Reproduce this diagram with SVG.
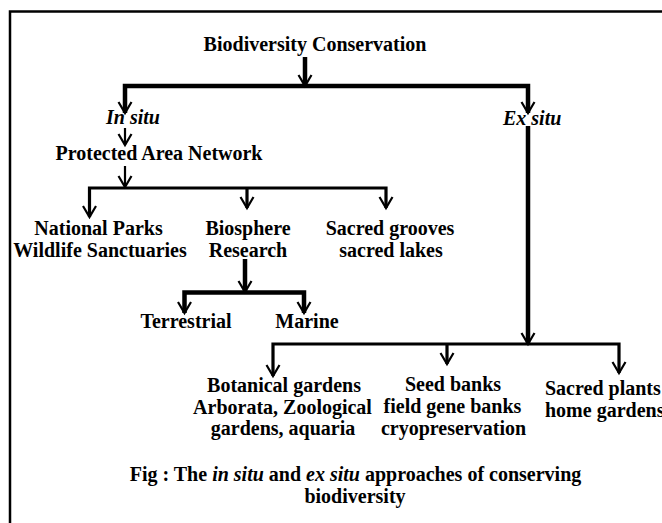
<svg xmlns="http://www.w3.org/2000/svg" width="662" height="523" viewBox="0 0 662 523">
<defs>
<style>
text{font-family:"Liberation Serif","Times New Roman",serif;font-weight:bold;font-size:20px;fill:#000}
.c{text-anchor:middle}
.i{font-style:italic}
.ln{fill:none;stroke:#000;stroke-linejoin:miter;stroke-linecap:butt}
.w2{stroke-width:2.2}
.w3{stroke-width:3.2}
.w4{stroke-width:4.5}
</style>
<marker id="ah" markerUnits="userSpaceOnUse" markerWidth="30" markerHeight="30" refX="0" refY="0" orient="auto" overflow="visible">
<path d="M-11,-6.5 L0,0 L-11,6.5" fill="none" stroke="#000" stroke-width="2.2"/>
</marker>
</defs>
<rect x="0" y="0" width="662" height="523" fill="#fff"/>
<rect id="frame" x="10" y="11.5" width="700" height="600" fill="none" stroke="#000" stroke-width="2.5"/>

<g id="connectors">
<path class="ln w4" d="M305,57 V86" marker-end="url(#ah)"/>
<path class="ln w4" d="M305,86 H125 V113" marker-end="url(#ah)"/>
<path class="ln w4" d="M305,86 H528 V113" marker-end="url(#ah)"/>
<path class="ln w2" d="M125,128 V145" marker-end="url(#ah)"/>
<path class="ln w2" d="M125,166 V187" marker-end="url(#ah)"/>
<path class="ln w3" d="M125,188 H89.5 V217" marker-end="url(#ah)"/>
<path class="ln w3" d="M125,188 H386 V208" marker-end="url(#ah)"/>
<path class="ln w3" d="M247,188 V208" marker-end="url(#ah)"/>
<path class="ln w4" d="M245,259 V292" marker-end="url(#ah)"/>
<path class="ln w4" d="M245,292.5 H184.5 V313" marker-end="url(#ah)"/>
<path class="ln w4" d="M245,292.5 H304 V313" marker-end="url(#ah)"/>
<path class="ln w4" d="M528,126 V344" marker-end="url(#ah)"/>
<path class="ln w3" d="M528,344 H273 V376" marker-end="url(#ah)"/>
<path class="ln w3" d="M528,344 H619 V373" marker-end="url(#ah)"/>
<path class="ln w3" d="M447,344 V364" marker-end="url(#ah)"/>
</g>

<g id="root"><text class="c" x="315" y="51">Biodiversity Conservation</text></g>
<g id="insitu"><text class="i" x="106" y="124">In situ</text></g>
<g id="exsitu"><text class="i" x="503" y="125">Ex situ</text></g>
<g id="pan"><text class="c" x="159" y="160">Protected Area Network</text></g>
<g id="national"><text class="c" x="98.5" y="235">National Parks</text><text class="c" x="100" y="257">Wildlife Sanctuaries</text></g>
<g id="biosphere"><text class="c" x="248" y="235">Biosphere</text><text class="c" x="248" y="257">Research</text></g>
<g id="sacred"><text class="c" x="390" y="235">Sacred grooves</text><text class="c" x="391" y="257">sacred lakes</text></g>
<g id="terrestrial"><text class="c" x="186" y="328">Terrestrial</text></g>
<g id="marine"><text class="c" x="307" y="328">Marine</text></g>
<g id="botanical"><text class="c" x="284" y="392">Botanical gardens</text><text class="c" x="282.5" y="414">Arborata, Zoological</text><text class="c" x="283" y="435">gardens, aquaria</text></g>
<g id="seed"><text class="c" x="453" y="391">Seed banks</text><text class="c" x="452.5" y="413">field gene banks</text><text class="c" x="453.5" y="435">cryopreservation</text></g>
<g id="plants"><text x="545" y="395">Sacred plants</text><text x="545" y="417">home gardens</text></g>
<g id="caption"><text class="c" x="355.5" y="481">Fig : The <tspan class="i">in situ</tspan> and <tspan class="i">ex situ</tspan> approaches of conserving</text><text class="c" x="355" y="503">biodiversity</text></g>
</svg>
